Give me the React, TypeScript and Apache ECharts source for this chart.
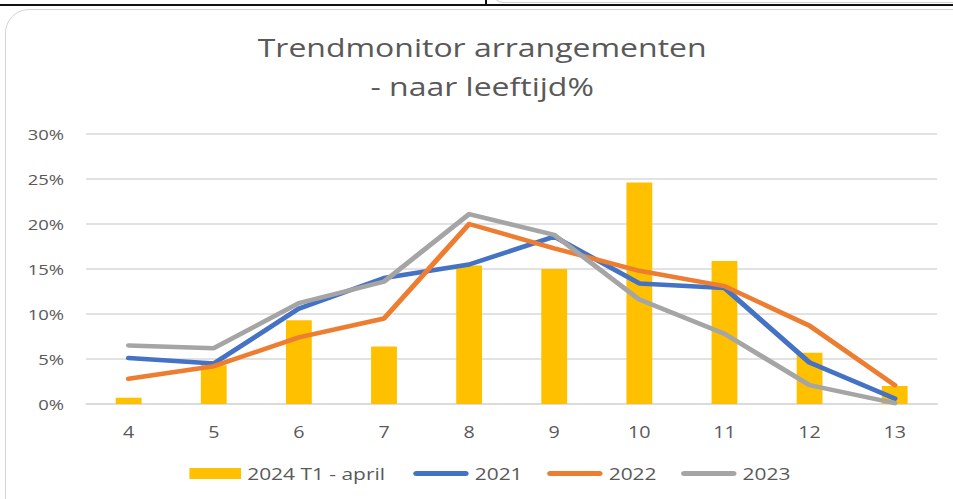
import React, { useEffect, useRef } from "react";
import * as echarts from "echarts";

const categories = ["4", "5", "6", "7", "8", "9", "10", "11", "12", "13"];
const bar2024 = [0.7, 4.3, 9.3, 6.4, 15.4, 15.0, 24.6, 15.9, 5.7, 2.0];
const line2021 = [5.1, 4.5, 10.6, 14.0, 15.5, 18.6, 13.4, 12.9, 4.6, 0.6];
const line2022 = [2.8, 4.2, 7.4, 9.5, 20.0, 17.3, 14.8, 13.1, 8.7, 2.1];
const line2023 = [6.5, 6.2, 11.2, 13.6, 21.1, 18.8, 11.6, 7.8, 2.1, 0.1];
const yTicks = { min: 0, max: 30, interval: 5 };
const titleText = "Trendmonitor arrangementen\n- naar leeftijd%";
const barName = "2024 T1 - april";
const lineNames = ["2021", "2022", "2023"];

const SX = 1.23;
const W = 775;
const H = 499;
const FONT = "'Open Sans', 'Noto Sans', sans-serif";
const TXT = "#595959";
const GRID = "#d9d9d9";
const COLORS = { bar: "#FFC000", l2021: "#4472C4", l2022: "#ED7D31", l2023: "#A5A5A5" };
const capsule = "path://M2.5,0 L42.5,0 A2.5,2.5 0 0 1 42.5,5 L2.5,5 A2.5,2.5 0 0 1 2.5,0 Z";

export default function App() {
  const ref = useRef<HTMLDivElement>(null);
  useEffect(() => {
    if (!ref.current) return;
    const chart = echarts.init(ref.current, null, { renderer: "svg" });
    const lineSeries = (name: string, data: number[], color: string) => ({
      name,
      type: "line",
      data,
      symbol: "none",
      lineStyle: { color, width: 4.5, cap: "round", join: "round" },
      itemStyle: { color },
    });
    chart.setOption({
      animation: false,
      textStyle: { fontFamily: FONT },
      graphic: [
        {
          type: "text",
          x: 392,
          y: 28,
          style: {
            text: titleText,
            fontSize: 26,
            fontFamily: FONT,
            fill: TXT,
            lineHeight: 39,
            align: "center",
            verticalAlign: "top",
          },
        },
      ],
      legend: [
        {
          data: [{ name: barName, icon: "rect" }],
          left: 154,
          top: 465,
          padding: 0,
          itemWidth: 42,
          itemHeight: 11,
          itemGap: 20,
          textStyle: { fontSize: 17, color: TXT, fontFamily: FONT },
        },
        {
          data: lineNames.map((n) => ({ name: n, icon: capsule })),
          left: 336,
          top: 465,
          padding: 0,
          itemWidth: 45,
          itemHeight: 5,
          itemGap: 20,
          textStyle: { fontSize: 17, color: TXT, fontFamily: FONT },
        },
      ],
      grid: { left: 70, right: 13, top: 134, bottom: 95, containLabel: false },
      xAxis: {
        type: "category",
        data: categories,
        axisLine: { show: true, lineStyle: { color: GRID, width: 1.5 } },
        axisTick: { show: false },
        axisLabel: { color: TXT, fontSize: 16, margin: 20, fontFamily: FONT },
      },
      yAxis: {
        type: "value",
        min: yTicks.min,
        max: yTicks.max,
        interval: yTicks.interval,
        axisLine: { show: false },
        axisTick: { show: false },
        axisLabel: { color: TXT, fontSize: 15, margin: 18, formatter: "{value}%", fontFamily: FONT },
        splitLine: { lineStyle: { color: GRID, width: 1.5 } },
      },
      series: [
        {
          name: barName,
          type: "bar",
          data: bar2024,
          barWidth: 21,
          itemStyle: { color: COLORS.bar },
        },
        lineSeries(lineNames[0], line2021, COLORS.l2021),
        lineSeries(lineNames[1], line2022, COLORS.l2022),
        lineSeries(lineNames[2], line2023, COLORS.l2023),
      ],
    });
    return () => chart.dispose();
  }, []);

  return (
    <div style={{ position: "fixed", left: 0, top: 0, width: 953, height: 499, overflow: "hidden", background: "#fff" }}>
      <div style={{ position: "absolute", left: 493, top: -20, width: 480, height: 23, border: "1.5px solid #cfcfcf", borderRadius: 10, boxSizing: "border-box" }} />
      <div style={{ position: "absolute", left: 0, top: 4, width: 953, height: 2, background: "#111" }} />
      <div style={{ position: "absolute", left: 485, top: 0, width: 2, height: 6, background: "#111" }} />
      <div style={{ position: "absolute", left: 5, top: 9, width: 975, height: 520, border: "1.5px solid #d4d4d4", borderRadius: 24, boxSizing: "border-box" }} />
      <div
        ref={ref}
        style={{ position: "absolute", left: 0, top: 0, width: W, height: H, transform: `scaleX(${SX})`, transformOrigin: "0 0" }}
      />
    </div>
  );
}
